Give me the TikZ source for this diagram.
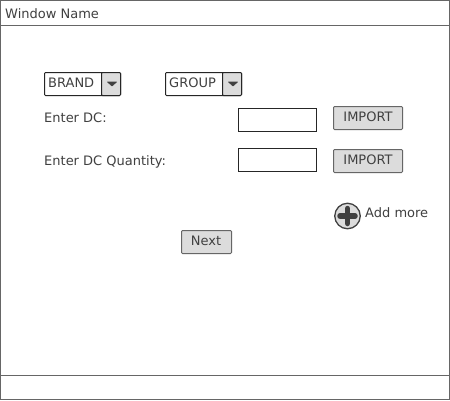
\documentclass[tikz,border=0pt]{standalone}
\usepackage{fontspec}
\setmainfont{DejaVu Sans}
\definecolor{frameg}{HTML}{666666}
\definecolor{btng}{HTML}{DCDCDC}
\definecolor{ink}{HTML}{404040}
\newcommand{\liftby}[2]{\raisebox{#1}[\height][\depth]{#2}}
\tikzset{
  win/.style={draw=frameg,line width=1.1bp,fill=white,inner sep=0pt,minimum width=449bp,outer sep=0pt},
  label/.style={text=ink,font=\fontsize{13bp}{15bp}\selectfont,inner sep=0pt,anchor=base west},
  combo/.style={draw=black!85,line width=1bp,fill=white,rounded corners=1bp,minimum width=76bp,minimum height=23bp,inner sep=0pt},
  comboarrow/.style={draw=black!85,line width=1bp,fill=btng,rounded corners=1bp,minimum width=19bp,minimum height=23bp,inner sep=0pt},
  tri/.style={fill=ink,draw=ink,line width=.6bp,line join=round},
  field/.style={draw=black!85,line width=1bp,fill=white,minimum width=78bp,minimum height=23bp,inner sep=0pt},
  btn/.style={draw=frameg,line width=1bp,fill=btng,rounded corners=1bp,inner sep=0pt,text=ink,font=\fontsize{13bp}{15bp}\selectfont,minimum height=23bp}
}
\begin{document}
\begin{tikzpicture}[x=1bp,y=-1bp]
\useasboundingbox (0,0) rectangle (450,400);
\fill[white] (0,0) rectangle (450,400);
\node[win,minimum height=25bp,anchor=north west] (title) at (0.5,0.5) {};
\node[win,minimum height=350bp,anchor=north west] (body) at (0.5,25.5) {};
\node[win,minimum height=24bp,anchor=north west] (foot) at (0.5,375.5) {};
\node[label] (wname) at (5,18) {Window Name};
\node[combo] (brand) at (82.5,84) {};
\node[comboarrow,anchor=east] (brandb) at (brand.east) {};
\node[label] (brandt) at (48,87) {BRAND};
\fill[tri] (107.5,82) -- (116.5,82) -- (112,86) -- cycle;
\node[combo] (group) at (203.5,84) {};
\node[comboarrow,anchor=east] (groupb) at (group.east) {};
\node[label] (groupt) at (169,87) {GROUP};
\fill[tri] (228.5,82) -- (237.5,82) -- (233,86) -- cycle;
\node[label] (dc) at (44,122) {Enter DC:};
\node[label] (dcq) at (44,165) {Enter DC Quantity:};
\node[field] (f1) at (277.5,120) {};
\node[field] (f2) at (277.5,160) {};
\node[btn,minimum width=69bp] (imp1) at (368,118) {\liftby{1.2bp}{IMPORT}};
\node[btn,minimum width=69bp] (imp2) at (368,161) {\liftby{1.2bp}{IMPORT}};
\node[btn,minimum width=50bp] (next) at (206.5,242) {\liftby{1.5bp}{\hspace{-1bp}Next}};
\node[circle,draw=ink,line width=1.3bp,fill=btng,minimum size=25.5bp,inner sep=0pt] (plus) at (347.5,216) {};
\draw[ink,line width=5.5bp,line cap=round] (340,216) -- (355,216);
\draw[ink,line width=5.5bp,line cap=round] (347.5,208.5) -- (347.5,223.5);
\node[label] (add) at (365,217) {Add more};
\end{tikzpicture}
\end{document}
